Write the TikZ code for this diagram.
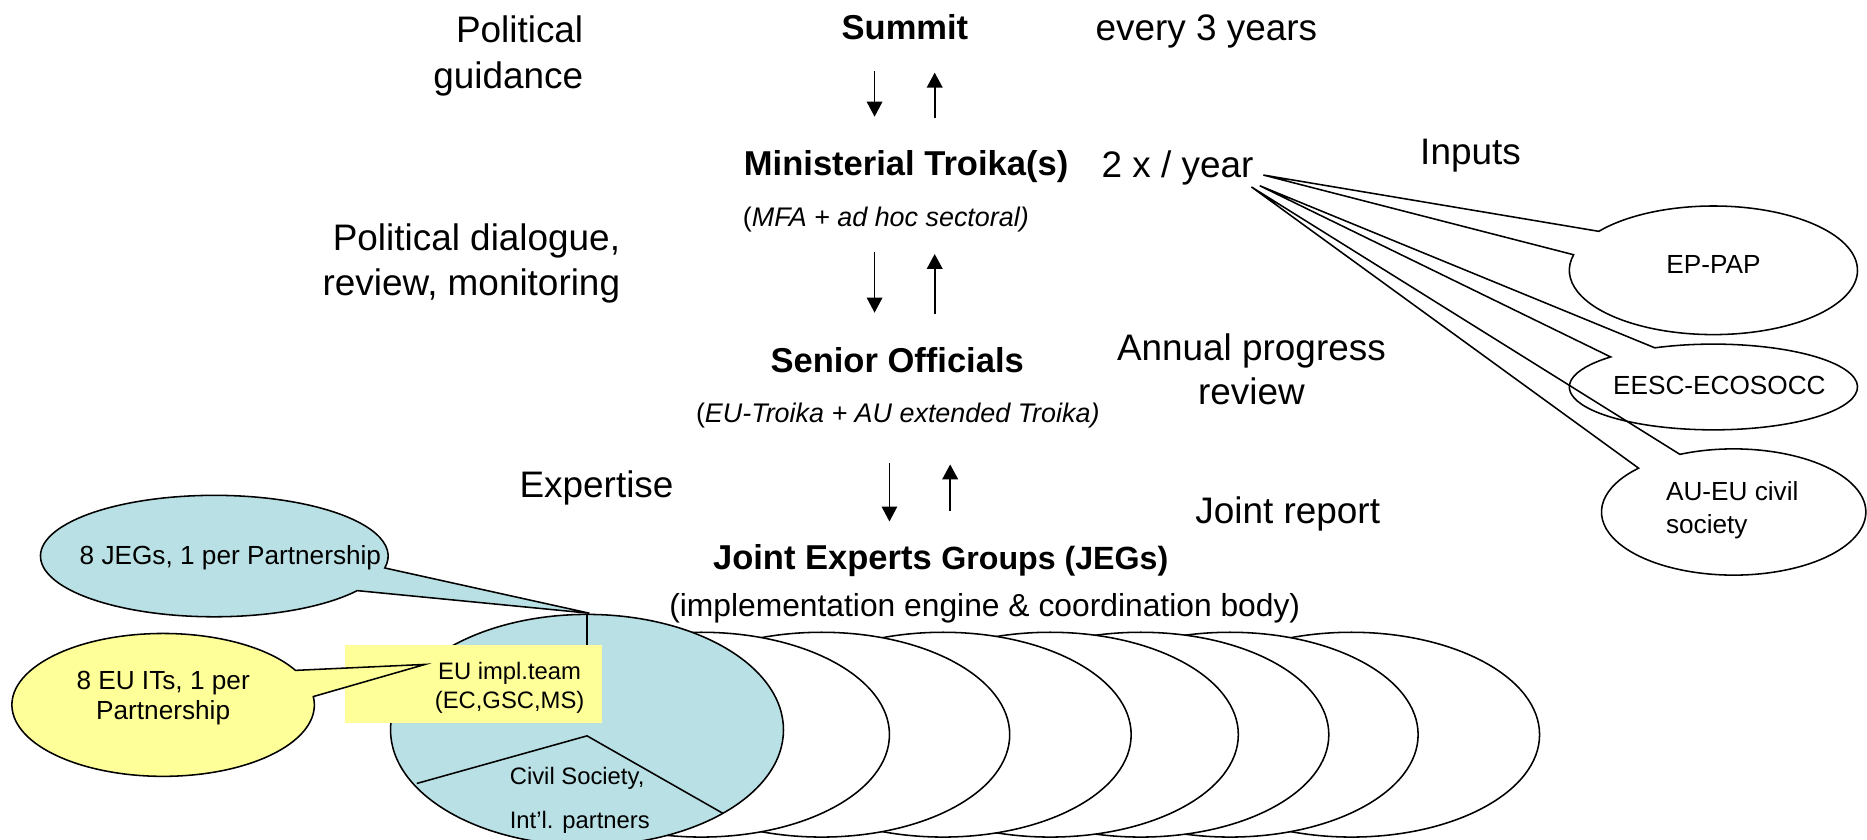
\documentclass[tikz,border=0pt]{standalone}
\usepackage{fontspec}
\setmainfont{Liberation Sans}
\usetikzlibrary{arrows.meta}
\definecolor{jegblue}{RGB}{185,224,228}
\definecolor{ityellow}{RGB}{255,255,153}
\begin{document}
\begin{tikzpicture}[x=1pt,y=-1pt,
  bigtxt/.style={font=\fontsize{31}{38}\selectfont, inner sep=0pt},
  boldtxt/.style={font=\fontsize{29}{35}\selectfont\bfseries, inner sep=0pt},
  subtxt/.style={font=\fontsize{22.6}{27}\selectfont, inner sep=0pt},
  smalltxt/.style={font=\fontsize{22}{27}\selectfont, inner sep=0pt},
  tinytxt/.style={font=\fontsize{20}{24}\selectfont, inner sep=0pt},
  outline/.style={draw=black, line width=1.3pt},
  downflow/.style={line width=1.3pt, -{Triangle[length=12.6pt,width=13pt]}},
  upflow/.style={line width=2pt, -{Triangle[length=12.6pt,width=13pt]}},
]
\useasboundingbox (0,0) rectangle (1568,705);

% ---------- top texts ----------
\node[bigtxt, anchor=base east] (pg1) at (490,36) {Political};
\node[bigtxt, anchor=base east] (pg2) at (490,74) {guidance};
\node[boldtxt, anchor=base] (summit) at (760,33.5) {Summit};
\node[bigtxt, anchor=base west] (every) at (920,34) {every 3 years};

\node[boldtxt, anchor=base] (mint) at (761,147.5) {Ministerial Troika(s)};
\node[bigtxt, anchor=base west] (twice) at (925,149) {2 x / year};
\node[bigtxt, anchor=base] (inputs) at (1235,138) {Inputs};
\node[subtxt, anchor=base] (mfa) at (744,190) {(\textit{MFA + ad hoc sectoral)}};

\node[bigtxt, anchor=base east] (pd1) at (521,210) {Political dialogue,};
\node[bigtxt, anchor=base east] (pd2) at (521,248) {review, monitoring};

\node[boldtxt, anchor=base] (senior) at (753.5,312.5) {Senior Officials};
\node[subtxt, anchor=base] (eut) at (754,355) {(\textit{EU-Troika + AU extended Troika)}};
\node[bigtxt, anchor=base] (apr1) at (1051,303) {Annual progress};
\node[bigtxt, anchor=base] (apr2) at (1051,340) {review};

\node[bigtxt, anchor=base] (expert) at (501,418) {Expertise};
\node[bigtxt, anchor=base] (jrep) at (1081.5,440) {Joint report};
\node[inner sep=0pt, anchor=base] (jeg) at (790,478.5)
  {\bfseries{\fontsize{29}{35}\selectfont Joint Experts }{\fontsize{27}{33}\selectfont Groups (JEGs)}};
\node[inner sep=0pt, font=\fontsize{26.7}{32}\selectfont, anchor=base] (impl) at (827,517.5)
  {(implementation engine \& coordination body)};

% ---------- arrows ----------
\coordinate (a1s) at (734.5,60);  \coordinate (a1e) at (734.5,98);
\coordinate (a1u) at (785,99.5);  \coordinate (a1v) at (785,61);
\coordinate (a2s) at (734.5,212); \coordinate (a2e) at (734.5,262.6);
\coordinate (a2u) at (785,263.7); \coordinate (a2v) at (785,213.3);
\coordinate (a3s) at (747,389);   \coordinate (a3e) at (747,438);
\coordinate (a3u) at (798,429);   \coordinate (a3v) at (798,390);
\draw[downflow] (a1s) -- (a1e);
\draw[upflow] (a1u) -- (a1v);
\draw[downflow] (a2s) -- (a2e);
\draw[upflow] (a2u) -- (a2v);
\draw[downflow] (a3s) -- (a3e);
\draw[upflow] (a3u) -- (a3v);

% ---------- input callouts ----------
\coordinate (tipA) at (1061,147);
\coordinate (tipB) at (1058,156);
\coordinate (tipC) at (1051,157);
\draw[outline, line join=miter] (1439,227) ++(217.3:121 and 54)
  arc[start angle=217.3, end angle=554, x radius=121, y radius=54] -- (tipA) -- cycle;
\draw[outline, line join=miter] (1439,325) ++(246:121 and 36)
  arc[start angle=246, end angle=584.5, x radius=121, y radius=36] -- (tipB) -- cycle;
\draw[outline, line join=miter] (1456,430) ++(246:111 and 53)
  arc[start angle=246, end angle=584, x radius=111, y radius=53] -- (tipC) -- cycle;
\node[smalltxt, anchor=base] (eppap) at (1439,230) {EP-PAP};
\node[smalltxt, anchor=base] (eesc) at (1444,331) {EESC-ECOSOCC};
\node[smalltxt, anchor=base west] (aueu1) at (1399,420) {AU-EU civil};
\node[smalltxt, anchor=base west] (aueu2) at (1399,448) {society};

% ---------- JEG ellipses ----------
\foreach \cx in {1135,1033,958,882,792,690,589}
  \draw[outline, fill=white] (\cx,617) ellipse [x radius=158, y radius=86];
\draw[outline, fill=jegblue] (493,613) ellipse [x radius=165, y radius=97];
\coordinate (piec) at (493,618);
\coordinate (piel) at (350,658);
\coordinate (pier) at (607,683);
\draw[line width=1.3pt] (piel) -- (piec) -- (pier);
\node[tinytxt, anchor=base west] (cs1) at (428,659) {Civil Society,};
\node[tinytxt, anchor=base west] (cs2) at (428,696) {Int’l. partners};

% ---------- 8 JEGs callout ----------
\coordinate (tipJ) at (495,515);
\draw[outline, fill=jegblue, line join=miter] (180,467) ++(34.7:146 and 51)
  arc[start angle=34.7, end angle=371.3, x radius=146, y radius=51] -- (tipJ) -- cycle;
\node[smalltxt, anchor=base] (jegs8) at (193.5,474) {8 JEGs, 1 per Partnership};

% ---------- EU implementation team ----------
\coordinate (jegtop) at (493,516);
\node[fill=ityellow, minimum width=216pt, minimum height=65pt, inner sep=0pt] (itbox) at (398,574.5) {};
\draw[line width=1.3pt] (jegtop) -- (itbox.north -| jegtop);
\node[tinytxt, anchor=base] (it1) at (428,571) {EU impl.team};
\node[tinytxt, anchor=base] (it2) at (428,595) {(EC,GSC,MS)};

% ---------- 8 EU ITs callout ----------
\coordinate (tipI) at (357,558);
\draw[outline, fill=ityellow, line join=miter] (137,592) ++(-6.7:127 and 60)
  arc[start angle=-6.7, end angle=331.1, x radius=127, y radius=60] -- (tipI) -- cycle;
\node[smalltxt, anchor=base] (its1) at (137,579) {8 EU ITs, 1 per};
\node[smalltxt, anchor=base] (its2) at (137,604.5) {Partnership};
\end{tikzpicture}
\end{document}
